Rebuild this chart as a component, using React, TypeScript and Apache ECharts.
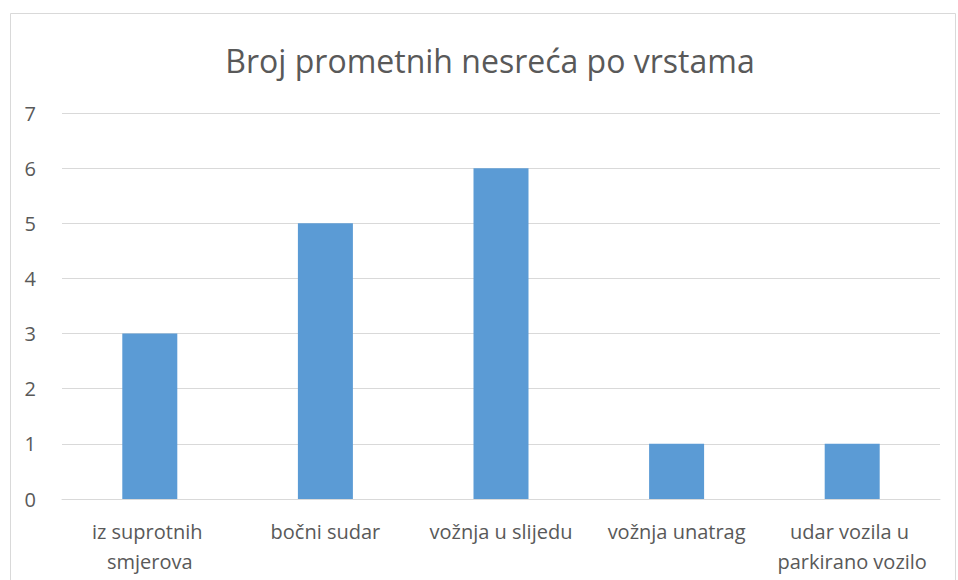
import React, { useEffect, useRef } from "react";
import * as echarts from "echarts";

const title = "Broj prometnih nesreća po vrstama";
const categories = [
  "iz suprotnih smjerova",
  "bočni sudar",
  "vožnja u slijedu",
  "vožnja unatrag",
  "udar vozila u parkirano vozilo",
];
const values = [3, 5, 6, 1, 1];

export default function App() {
  const ref = useRef<HTMLDivElement>(null);
  useEffect(() => {
    if (!ref.current) return;
    const chart = echarts.init(ref.current, null, { renderer: "svg" });
    const font = "'Open Sans', 'Noto Sans', sans-serif";
    chart.setOption({
      animation: false,
      backgroundColor: "#ffffff",
      graphic: [
        {
          type: "rect",
          shape: { x: 10.5, y: 13.5, width: 945, height: 620 },
          style: { fill: "none", stroke: "#d9d9d9", lineWidth: 1 },
          silent: true,
        },
        {
          type: "text",
          x: 490,
          y: 60,
          style: {
            text: title,
            fill: "#595959",
            fontSize: 32,
            fontFamily: font,
            align: "center",
            verticalAlign: "middle",
          },
        },
      ],
      grid: { left: 62, right: 18, top: 113, bottom: 81, containLabel: false },
      xAxis: {
        type: "category",
        data: categories,
        axisLine: { lineStyle: { color: "#d9d9d9", width: 1 } },
        axisTick: { show: false },
        axisLabel: {
          color: "#595959",
          fontSize: 20,
          fontFamily: font,
          margin: 17,
          lineHeight: 30,
          width: 172,
          overflow: "break",
          interval: 0,
        },
      },
      yAxis: {
        type: "value",
        min: 0,
        max: 7,
        interval: 1,
        axisLine: { show: false },
        axisTick: { show: false },
        splitLine: { lineStyle: { color: "#d9d9d9", width: 1 } },
        axisLabel: {
          color: "#595959",
          fontSize: 20,
          fontFamily: font,
          margin: 26,
        },
      },
      series: [
        {
          type: "bar",
          data: values,
          barWidth: 55,
          itemStyle: { color: "#5b9bd5" },
        },
      ],
    });
    return () => chart.dispose();
  }, []);
  return (
    <div
      ref={ref}
      style={{ position: "fixed", left: 0, top: 0, width: 958, height: 580 }}
    />
  );
}
